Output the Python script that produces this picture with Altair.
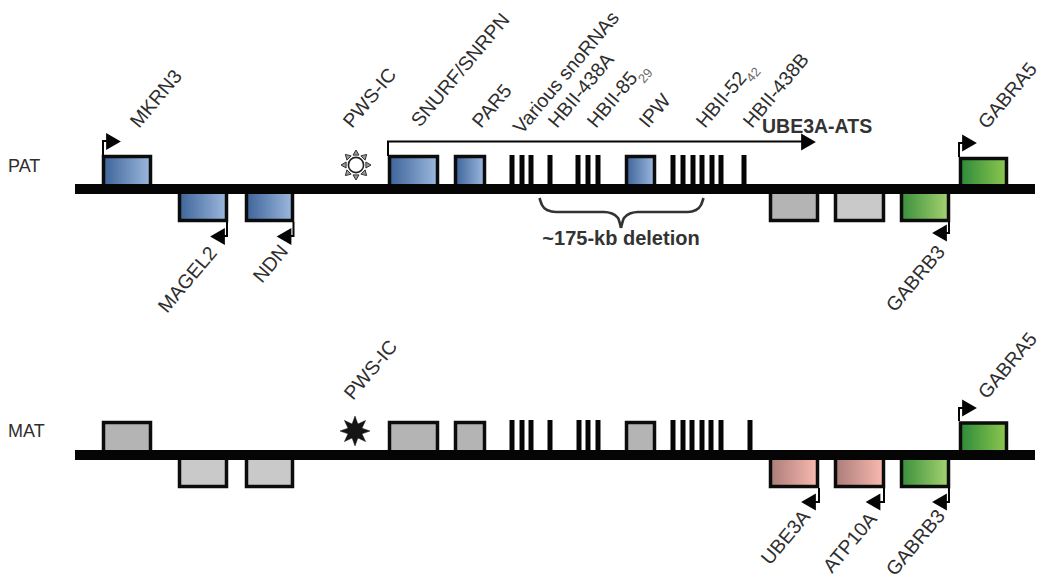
import math
import altair as alt
import pandas as pd

# Image-pixel coordinates
X_DOMAIN = [8, 1042]
Y_DOMAIN = [582, 8]
xs = alt.Scale(domain=X_DOMAIN, nice=False, zero=False)
ys = alt.Scale(domain=Y_DOMAIN, nice=False, zero=False)

# tracks
track_names = ["PAT", "MAT"]
track_x0 = [75, 75]
track_x1 = [1035, 1035]
track_y0 = [184, 450]
track_y1 = [194, 460]

# boxes: (x0, x1) are stroke centre lines
upper_pat_top, upper_pat_bot = 156.5, 186
lower_pat_top, lower_pat_bot = 192, 220.5
upper_mat_top, upper_mat_bot = 422.5, 452
lower_mat_top, lower_mat_bot = 458, 486.5

blue_x0 = [103.5, 179.5, 246.5, 389.5, 455.5, 626.5]
blue_x1 = [150.5, 226.5, 292.5, 437.5, 484.5, 654.5]
blue_y0 = [upper_pat_top, lower_pat_top, lower_pat_top, upper_pat_top, upper_pat_top, upper_pat_top]
blue_y1 = [upper_pat_bot, lower_pat_bot, lower_pat_bot, upper_pat_bot, upper_pat_bot, upper_pat_bot]

dark_grey_x0 = [770.5, 103.5, 389.5, 455.5, 626.5]
dark_grey_x1 = [817.5, 150.5, 437.5, 484.5, 654.5]
dark_grey_y0 = [lower_pat_top, upper_mat_top, upper_mat_top, upper_mat_top, upper_mat_top]
dark_grey_y1 = [lower_pat_bot, upper_mat_bot, upper_mat_bot, upper_mat_bot, upper_mat_bot]

light_grey_x0 = [835.5, 179.5, 246.5]
light_grey_x1 = [883.5, 226.5, 292.5]
light_grey_y0 = [lower_pat_top, lower_mat_top, lower_mat_top]
light_grey_y1 = [lower_pat_bot, lower_mat_bot, lower_mat_bot]

green_up_x0 = [960.5, 960.5]
green_up_x1 = [1006.5, 1006.5]
green_up_y0 = [158.5, 423]
green_up_y1 = [186, 452]

green_low_x0 = [901.5, 901.5]
green_low_x1 = [948.5, 948.5]
green_low_y0 = [lower_pat_top, lower_mat_top]
green_low_y1 = [lower_pat_bot, lower_mat_bot]

pink_x0 = [770.5, 835.5]
pink_x1 = [817.5, 883.5]
pink_y0 = [lower_mat_top, lower_mat_top]
pink_y1 = [lower_mat_bot, lower_mat_bot]

# snoRNA ticks
tick_pat_x = [512, 522, 531, 550, 578, 588, 598, 673, 683, 693, 702, 712, 721, 744]
tick_mat_x = [512, 522, 531, 550, 579, 588, 598, 673, 683, 692, 702, 711, 721, 750]
tick_pat_top, tick_pat_bot = 155, 186
tick_mat_top, tick_mat_bot = 420, 452

# promoter elbows
elbow_id = ["MKRN3"] * 3 + ["MAGEL2"] * 3 + ["NDN"] * 3 + ["GABRB3p"] * 3 + ["GABRA5p"] * 3 + \
           ["GABRA5m"] * 3 + ["UBE3A"] * 3 + ["ATP10A"] * 3 + ["GABRB3m"] * 3 + ["ATS"] * 3
elbow_order = [0, 1, 2] * 10
elbow_x = [103, 103, 112, 227, 227, 218, 293.5, 293.5, 285, 949, 949, 940, 959, 959, 968,
           959, 959, 968, 819, 819, 810, 884, 884, 875, 949, 949, 940, 388, 388, 805]
elbow_y = [156, 141, 141, 222, 236, 236, 222, 236, 236, 222, 233, 233, 157, 143, 143,
           421, 408, 408, 488, 502, 502, 488, 502, 502, 488, 502, 502, 156, 141.5, 141.5]

arrow_r_x = [113.5, 969.5, 969.5, 808.5]
arrow_r_y = [141.5, 143, 408, 142]
arrow_l_x = [217.5, 284, 939.5, 808.5, 873, 939.5]
arrow_l_y = [236.5, 236.5, 233, 502, 502, 502]

# deletion brace
brace_id = ["L"] * 8 + ["R"] * 8
brace_order = list(range(16))
brace_x = [539.5, 542, 547, 556, 604, 612, 618, 621, 621, 624, 630, 638, 688, 696, 701, 703.5]
brace_y = [198, 205, 210, 212, 212, 213.5, 218, 228, 228, 218, 213.5, 212, 212, 210, 205, 198]

# rotated labels
label_text = ["MKRN3", "PWS-IC", "SNURF/SNRPN", "PAR5", "Various snoRNAs", "HBII-438A", "HBII-85",
              "IPW", "HBII-52", "HBII-438B", "GABRA5", "MAGEL2", "NDN", "GABRB3",
              "PWS-IC", "GABRA5", "UBE3A", "ATP10A", "GABRB3"]
label_x = [139, 352, 420, 481, 522, 557, 596, 648, 705, 752, 987, 167, 262, 895,
           353, 987, 770, 832, 895]
label_y = [129, 129, 128, 129, 135, 129, 129, 129, 129, 129, 130, 314, 284, 313,
           401, 400, 566, 574, 577]

sub_text = ["29", "42"]
sub_x = [644, 752]
sub_y = [84, 83]

track_label_text = ["PAT", "MAT"]
track_label_x = [8, 8]
track_label_y = [172, 437]

bold_text = ["UBE3A-ATS", "~175-kb deletion"]
bold_x = [762, 621]
bold_y = [133, 245]
bold_align = ["left", "center"]

pws_x = [356, 355]
pws_y = [165, 431]


def grad(left, right):
    return alt.Gradient(gradient="linear", x1=0, x2=1, y1=0, y2=0,
                        stops=[alt.GradientStop(color=left, offset=0),
                               alt.GradientStop(color=right, offset=1)])


def boxes(x0, x1, y0, y1, fill):
    d = pd.DataFrame({"x0": x0, "x1": x1, "y0": y0, "y1": y1})
    return alt.Chart(d).mark_rect(fill=fill, stroke="#0c0c0c", strokeWidth=3.5).encode(
        x=alt.X("x0:Q", scale=xs, axis=None), x2="x1:Q",
        y=alt.Y("y0:Q", scale=ys, axis=None), y2="y1:Q")


def ticks(tx, top, bot):
    d = pd.DataFrame({"x": tx, "top": top, "bot": bot})
    return alt.Chart(d).mark_rule(color="#050505", strokeWidth=5).encode(
        x=alt.X("x:Q", scale=xs, axis=None),
        y=alt.Y("top:Q", scale=ys, axis=None), y2="bot:Q")


def arrows(ax, ay, shape):
    d = pd.DataFrame({"x": ax, "y": ay})
    return alt.Chart(d).mark_point(shape=shape, size=290, filled=True, opacity=1,
                                   color="#050505").encode(
        x=alt.X("x:Q", scale=xs, axis=None), y=alt.Y("y:Q", scale=ys, axis=None))


def texts(t, tx, ty, **kw):
    d = pd.DataFrame({"t": t, "x": tx, "y": ty})
    return alt.Chart(d).mark_text(font="Liberation Sans", **kw).encode(
        x=alt.X("x:Q", scale=xs, axis=None), y=alt.Y("y:Q", scale=ys, axis=None), text="t:N")


def star_path(outer, inner, n=8):
    pts = []
    for i in range(n * 2):
        r = outer if i % 2 == 0 else inner
        a = math.pi * i / n - math.pi / 2
        pts.append(f"{r * math.cos(a):.3f},{r * math.sin(a):.3f}")
    return "M" + "L".join(pts) + "Z"


def rays_path(outer, inner, half, n=8):
    parts = []
    for i in range(n):
        a = 2 * math.pi * i / n - math.pi / 2
        c, s = math.cos(a), math.sin(a)
        tip = (outer * c, outer * s)
        p1 = (inner * c - half * s, inner * s + half * c)
        p2 = (inner * c + half * s, inner * s - half * c)
        parts.append(f"M{tip[0]:.3f},{tip[1]:.3f}L{p1[0]:.3f},{p1[1]:.3f}L{p2[0]:.3f},{p2[1]:.3f}Z")
    return "".join(parts)


sun = pd.DataFrame({"x": pws_x[:1], "y": pws_y[:1]})
dark = pd.DataFrame({"x": pws_x[1:], "y": pws_y[1:]})
px = alt.X("x:Q", scale=xs, axis=None)
py = alt.Y("y:Q", scale=ys, axis=None)

sun_rays = alt.Chart(sun).mark_point(shape=rays_path(1, 0.66, 0.2), size=900, filled=True, opacity=1,
                                     fill="#999999", stroke="#333333", strokeWidth=1).encode(x=px, y=py)
sun_ring = alt.Chart(sun).mark_point(shape="circle", size=230, filled=True, opacity=1,
                                     fill="#ffffff", stroke="#222222", strokeWidth=1.6).encode(x=px, y=py)
dark_star = alt.Chart(dark).mark_point(shape=star_path(1, 0.5), size=900, filled=True, opacity=1,
                                       fill="#151515", stroke="#151515", strokeWidth=0.5).encode(x=px, y=py)
dark_core = alt.Chart(dark).mark_point(shape="circle", size=220, filled=True, opacity=1,
                                       fill="#151515", stroke="#151515", strokeWidth=0.5).encode(x=px, y=py)

elbows = alt.Chart(pd.DataFrame({"id": elbow_id, "o": elbow_order, "x": elbow_x, "y": elbow_y})).mark_line(
    color="#050505", strokeWidth=2).encode(x=px, y=py, detail="id:N", order="o:Q")

brace = alt.Chart(pd.DataFrame({"id": brace_id, "o": brace_order, "x": brace_x, "y": brace_y})).mark_line(
    color="#333333", strokeWidth=2.6, interpolate="monotone").encode(x=px, y=py, detail="id:N", order="o:Q")

track = alt.Chart(pd.DataFrame({"n": track_names, "x0": track_x0, "x1": track_x1,
                                "y0": track_y0, "y1": track_y1})).mark_rect(color="#050505").encode(
    x=alt.X("x0:Q", scale=xs, axis=None), x2="x1:Q",
    y=alt.Y("y0:Q", scale=ys, axis=None), y2="y1:Q")

layers = [
    boxes(blue_x0, blue_x1, blue_y0, blue_y1, grad("#3e6499", "#9cb8de")),
    boxes(dark_grey_x0, dark_grey_x1, dark_grey_y0, dark_grey_y1, "#b4b4b4"),
    boxes(light_grey_x0, light_grey_x1, light_grey_y0, light_grey_y1, "#c9c9c9"),
    boxes(green_up_x0, green_up_x1, green_up_y0, green_up_y1, grad("#2e8a3a", "#8cc84e")),
    boxes(green_low_x0, green_low_x1, green_low_y0, green_low_y1, grad("#3a8f3c", "#a6d270")),
    boxes(pink_x0, pink_x1, pink_y0, pink_y1, grad("#ab7d78", "#f9bab0")),
    ticks(tick_pat_x, tick_pat_top, tick_pat_bot),
    ticks(tick_mat_x, tick_mat_top, tick_mat_bot),
    track,
    elbows,
    arrows(arrow_r_x, arrow_r_y, "triangle-right"),
    arrows(arrow_l_x, arrow_l_y, "triangle-left"),
    brace,
    sun_rays, sun_ring, dark_star, dark_core,
    texts(label_text, label_x, label_y, angle=310, align="left", baseline="alphabetic",
          fontSize=19.5, color="#2e2e2e"),
    texts(sub_text, sub_x, sub_y, angle=310, align="left", baseline="alphabetic",
          fontSize=13, color="#6a6a6a"),
    texts(track_label_text, track_label_x, track_label_y, align="left", baseline="alphabetic",
          fontSize=18, color="#2e2e2e"),
    texts(bold_text[:1], bold_x[:1], bold_y[:1], align=bold_align[0], baseline="alphabetic",
          fontSize=19.5, fontWeight="bold", color="#333333"),
    texts(bold_text[1:], bold_x[1:], bold_y[1:], align=bold_align[1], baseline="alphabetic",
          fontSize=20, fontWeight="bold", color="#333333"),
]

chart = alt.layer(*layers).properties(
    width=X_DOMAIN[1] - X_DOMAIN[0],
    height=Y_DOMAIN[0] - Y_DOMAIN[1],
    padding=0,
    autosize=alt.AutoSizeParams(type="none"),
    background="white",
).configure_view(stroke=None)

chart.save("out.html", embed_options={"renderer": "svg", "actions": False})
